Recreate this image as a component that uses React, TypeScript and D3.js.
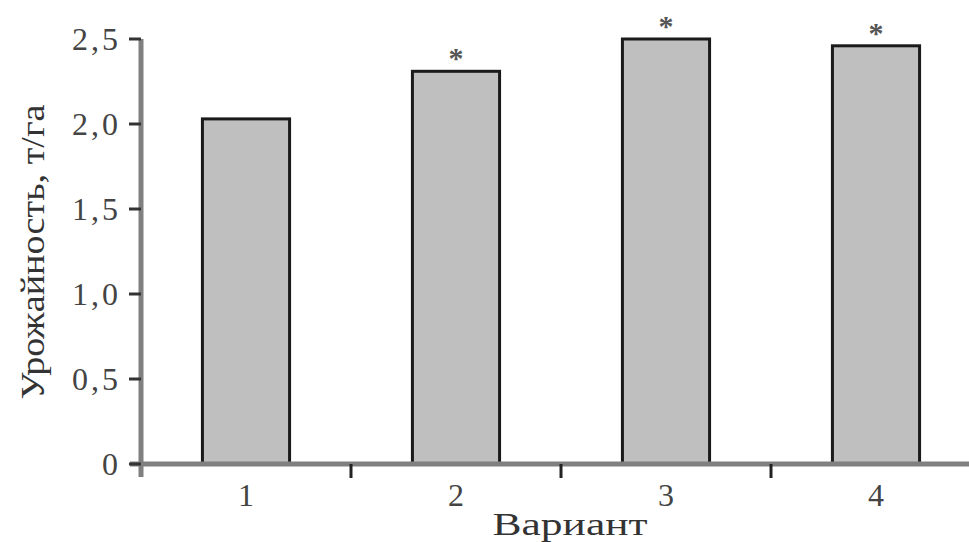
import React from "react";
import * as d3 from "d3";

const variants = ["1", "2", "3", "4"];
const yields = [2.03, 2.31, 2.5, 2.46];
const significant = [false, true, true, true];
const yTicks = [0, 0.5, 1.0, 1.5, 2.0, 2.5];

const W = 969;
const H = 542;
const font = "'Times New Roman', 'Liberation Serif', Tinos, serif";

export default function App() {
  const x = d3.scaleBand().domain(variants).range([141, 981]).paddingInner(0.585).paddingOuter(0.2925);
  const y = d3.scaleLinear().domain([0, 2.5]).range([464, 39]);
  const fmt = (v: number) => (v === 0 ? "0" : d3.format(".1f")(v).replace(".", ","));
  const step = x.step();
  const bounds = variants.slice(1).map((v) => (x(v) as number) - (step - x.bandwidth()) / 2);

  return (
    <svg width={W} height={H} style={{ position: "absolute", left: 0, top: 0, background: "#fff" }}>
      {/* bars */}
      {variants.map((v, i) => (
        <g key={v}>
          <rect
            x={x(v)}
            y={y(yields[i])}
            width={x.bandwidth()}
            height={y(0) - y(yields[i])}
            fill="#bfbfbf"
            stroke="#1a1a1a"
            strokeWidth={3}
          />
          {significant[i] && (
            <text
              x={(x(v) as number) + x.bandwidth() / 2}
              y={y(yields[i]) - 3}
              textAnchor="middle"
              fontFamily={font}
              fontSize={30}
              fontWeight="bold"
              fill="#555"
            >
              *
            </text>
          )}
          <text
            x={(x(v) as number) + x.bandwidth() / 2}
            y={506}
            textAnchor="middle"
            fontFamily={font}
            fontSize={32}
            fill="#444"
          >
            {v}
          </text>
        </g>
      ))}

      {/* x axis */}
      <line x1={130} x2={W} y1={y(0)} y2={y(0)} stroke="#808080" strokeWidth={5} />
      {bounds.map((b, i) => (
        <line key={i} x1={b} x2={b} y1={y(0)} y2={y(0) + 14} stroke="#222" strokeWidth={3} />
      ))}

      {/* y axis */}
      <line x1={141} x2={141} y1={y(2.5)} y2={y(0) + 13} stroke="#808080" strokeWidth={5} />
      {yTicks.map((t) => (
        <g key={t}>
          <line x1={129} x2={141} y1={y(t)} y2={y(t)} stroke="#333" strokeWidth={3} />
          <text
            x={121}
            y={y(t)}
            dy="0.35em"
            textAnchor="end"
            fontFamily={font}
            fontSize={32}
            letterSpacing={3}
            fill="#444"
          >
            {fmt(t)}
          </text>
        </g>
      ))}

      {/* axis titles */}
      <text
        transform="translate(44,252) rotate(-90)"
        textAnchor="middle"
        fontFamily={font}
        fontSize={34}
        textLength={295}
        lengthAdjust="spacingAndGlyphs"
        fill="#333"
      >
        Урожайность, т/га
      </text>
      <text
        x={570}
        y={535}
        textAnchor="middle"
        fontFamily={font}
        fontSize={32}
        textLength={155}
        lengthAdjust="spacingAndGlyphs"
        fill="#333"
      >
        Вариант
      </text>
    </svg>
  );
}
